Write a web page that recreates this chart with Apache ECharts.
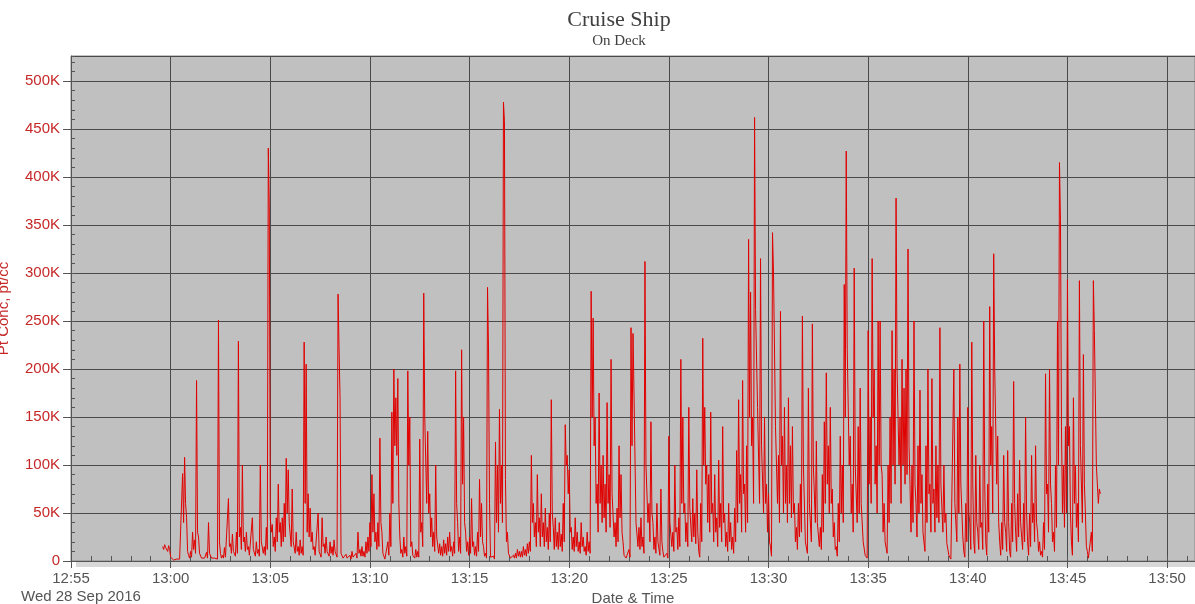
<!DOCTYPE html>
<html>
<head>
<meta charset="utf-8">
<script src="https://cdn.jsdelivr.net/npm/echarts@6/dist/echarts.min.js"></script>
<style>
html,body{margin:0;padding:0;background:#fff;}
#chart{width:1195px;height:604px;}
</style>
</head>
<body>
<div id="chart"></div>
<script>
// ---- data ----
const titleText = 'Cruise Ship';
const subtitleText = 'On Deck';
const dateLabel = 'Wed 28 Sep 2016';
const xAxisName = 'Date & Time';
const yAxisName = 'Pt Conc, pt/cc';
// x in minutes after midnight
const xMin = 775;      // 12:55
const xMax = 831.4;    // ~13:51:24
const startMinute = 779 + 36 / 60; // 12:59:36
const binMinute = 0.1;             // 6 s bins, each read as a high then a low reading (3 s apart)
// concentration in thousands (K pt/cc): upper reading of each bin
const concHighK = [
15,17,13,16,4,2,3,2,3,4,
91,108,45,6,10,30,22,188,25,7,
5,3,9,40,6,4,3,5,251,8,
6,14,4,65,18,28,12,30,229,35,
100,25,30,15,8,45,10,20,12,100,
20,15,35,430,45,38,25,45,80,40,
45,60,107,95,40,75,20,30,15,22,
15,228,205,70,55,30,15,8,50,10,
45,18,25,12,20,15,22,10,278,170,
8,5,7,4,6,10,5,8,30,12,
15,10,20,25,40,90,70,30,40,128,
30,5,4,20,50,155,200,170,190,25,
12,25,15,198,150,20,8,12,10,127,
40,279,150,135,70,45,30,100,25,18,
15,22,18,25,30,15,20,198,40,25,
220,150,30,20,25,65,20,15,30,85,
60,15,8,285,60,6,5,124,100,158,
100,478,85,30,8,5,6,8,12,10,
10,15,12,18,20,110,60,40,90,45,
70,40,55,35,50,168,35,45,30,40,
28,60,142,110,95,35,25,45,30,20,
40,25,15,30,20,281,253,150,80,175,
100,110,80,165,90,210,70,40,55,120,
90,20,8,5,12,243,237,175,40,35,
45,25,312,100,60,145,40,25,60,20,
75,10,5,8,130,40,30,100,35,45,
210,150,60,40,160,55,65,50,95,10,
60,232,160,100,90,155,60,90,45,105,
60,140,50,30,60,40,25,55,115,168,
90,188,80,120,335,280,150,462,262,160,
315,120,150,80,70,15,342,300,140,110,
260,130,160,100,170,120,140,60,35,60,
80,255,100,20,180,60,247,100,125,40,
35,90,145,196,120,160,75,40,15,60,
130,100,288,427,220,130,80,305,100,140,
180,60,20,5,240,150,315,200,120,250,
250,90,60,20,100,150,240,200,378,200,
150,210,180,200,325,80,100,250,60,120,
178,90,30,120,200,80,190,75,120,100,
243,80,100,50,20,5,4,200,60,150,
205,80,10,60,160,40,228,20,110,30,
100,40,250,20,80,265,140,320,200,130,
20,40,110,30,115,10,60,187,30,70,
105,40,60,150,20,50,110,60,120,30,
20,10,40,195,80,200,60,30,100,250,
415,140,100,140,293,140,20,170,100,60,
292,120,215,50,10,3,30,292,240,100,
75
];
// lower reading of each bin
const concLowK = [
12,14,10,12,2,1,2,1,2,2,
40,60,10,3,4,12,8,30,8,3,
2,2,3,8,3,2,2,2,20,3,
3,4,2,15,8,10,5,8,25,12,
20,10,12,6,4,12,5,8,5,20,
8,6,12,371,30,15,10,20,30,15,
20,25,50,40,15,20,8,10,6,8,
6,60,30,25,20,12,6,4,10,4,
15,8,10,5,8,6,10,4,222,8,
3,2,3,2,2,4,2,3,8,5,
5,4,8,10,15,30,20,12,15,40,
8,2,2,6,15,60,120,110,60,8,
4,8,5,100,15,6,3,4,4,30,
15,150,60,50,25,15,10,25,8,6,
5,8,6,10,10,5,8,60,10,8,
80,40,10,6,8,15,6,5,10,25,
20,5,3,222,4,3,2,40,30,60,
40,458,20,8,3,2,3,3,5,4,
4,6,5,8,10,40,25,15,30,15,
25,15,20,12,20,50,12,15,12,15,
10,20,100,70,30,12,10,15,10,8,
15,10,6,10,8,150,120,60,30,60,
40,45,30,60,35,70,25,15,20,45,
30,6,3,2,4,120,175,40,15,12,
15,8,100,40,20,50,12,8,20,6,
20,4,2,3,40,15,10,30,12,15,
60,50,20,15,55,20,25,18,30,4,
20,100,80,40,30,50,20,30,15,35,
20,40,15,10,20,12,8,20,40,60,
30,70,30,40,150,120,60,262,160,60,
120,50,60,30,20,5,300,140,60,40,
100,50,60,40,60,45,50,20,12,25,
30,100,20,8,60,20,100,40,40,15,
12,30,60,80,50,60,25,12,5,20,
50,40,150,220,100,50,30,100,40,50,
60,20,6,3,80,60,150,80,50,100,
100,30,20,8,40,60,100,80,200,100,
60,100,80,90,120,30,40,80,25,50,
60,30,10,40,70,30,60,30,45,40,
80,30,40,18,6,2,3,60,20,50,
80,25,4,20,50,12,80,8,40,12,
35,12,80,6,30,100,50,200,80,40,
6,12,40,10,40,4,20,60,10,25,
40,12,20,50,6,15,40,20,40,10,
6,4,12,70,30,80,20,10,35,100,
355,50,35,50,120,50,6,60,35,20,
120,40,80,15,3,2,10,240,100,60,
70
];

const seriesData = [];
concHighK.forEach((v, i) => {
  const t = startMinute + i * binMinute;
  seriesData.push([t, v]);
  seriesData.push([t + binMinute / 2, concLowK[i]]);
});

function fmtTime(v) {
  const t = Math.round(v);
  const h = Math.floor(t / 60);
  const m = t % 60;
  return h + ':' + (m < 10 ? '0' : '') + m;
}

const chart = echarts.init(document.getElementById('chart'));
const gridColor = '#4a4a4a';
const redText = '#c62828';
const grayText = '#555555';
const titleColor = '#404040';

chart.setOption({
  animation: false,
  backgroundColor: '#ffffff',
  grid: {
    left: 71, right: 0, top: 56, bottom: 43,
    containLabel: false, outerBoundsMode: 'none',
    show: true, backgroundColor: '#c0c0c0', borderColor: '#888888', borderWidth: 1
  },
  graphic: [
    { type: 'text', x: 619, y: 20, style: { text: titleText, font: '22px "Liberation Serif", serif', fill: titleColor, align: 'center', verticalAlign: 'middle' } },
    { type: 'text', x: 619, y: 41, style: { text: subtitleText, font: '15px "Liberation Serif", serif', fill: titleColor, align: 'center', verticalAlign: 'middle' } },
    { type: 'rect', x: 76, y: 562, shape: { width: 1119, height: 5 }, style: { fill: '#d8d8d8' }, z: 0 },
    { type: 'text', x: 21, y: 597, style: { text: dateLabel, font: '15px "Liberation Sans", Arial', fill: grayText, align: 'left', verticalAlign: 'middle' } }
  ],
  xAxis: [
    {
      type: 'value', min: xMin, max: xMax, interval: 5, position: 'bottom',
      name: xAxisName, nameLocation: 'middle', nameGap: 29,
      nameTextStyle: { fontFamily: 'Liberation Sans', fontSize: 15, color: grayText },
      axisLine: { show: true, lineStyle: { color: '#555' } },
      axisTick: { show: true, inside: false, length: 7, lineStyle: { color: '#555' } },
      axisLabel: { formatter: fmtTime, color: grayText, fontFamily: 'Liberation Sans', fontSize: 15, margin: 10, showMaxLabel: false },
      splitLine: { show: true, lineStyle: { color: gridColor, width: 1 } }
    },
    {
      type: 'value', min: xMin, max: xMax, interval: 1, position: 'bottom',
      axisLine: { show: false },
      axisTick: { show: true, inside: true, length: 5, lineStyle: { color: '#555' } },
      axisLabel: { show: false },
      splitLine: { show: false }
    }
  ],
  yAxis: [
    {
      type: 'value', min: 0, max: 526, interval: 50, position: 'left',
      name: yAxisName, nameLocation: 'middle', nameGap: 60, nameRotate: 90,
      nameTextStyle: { fontFamily: 'Liberation Sans', fontSize: 15, color: redText },
      axisLine: { show: true, lineStyle: { color: '#555' } },
      axisTick: { show: true, inside: false, length: 8, lineStyle: { color: '#555' } },
      axisLabel: {
        formatter: v => (v === 0 ? '0' : v + 'K'),
        color: redText, fontFamily: 'Liberation Sans', fontSize: 15, margin: 11, showMaxLabel: false
      },
      splitLine: { show: true, lineStyle: { color: gridColor, width: 1 } }
    },
    {
      type: 'value', min: 0, max: 526, interval: 10, position: 'left',
      axisLine: { show: false },
      axisTick: { show: true, inside: true, length: 4, lineStyle: { color: '#555' } },
      axisLabel: { show: false },
      splitLine: { show: false }
    }
  ],
  series: [
    {
      type: 'line',
      xAxisIndex: 0,
      yAxisIndex: 0,
      data: seriesData,
      showSymbol: false,
      sampling: false,
      lineStyle: { color: '#e00000', width: 1 },
      z: 5
    }
  ]
});
</script>
</body>
</html>
